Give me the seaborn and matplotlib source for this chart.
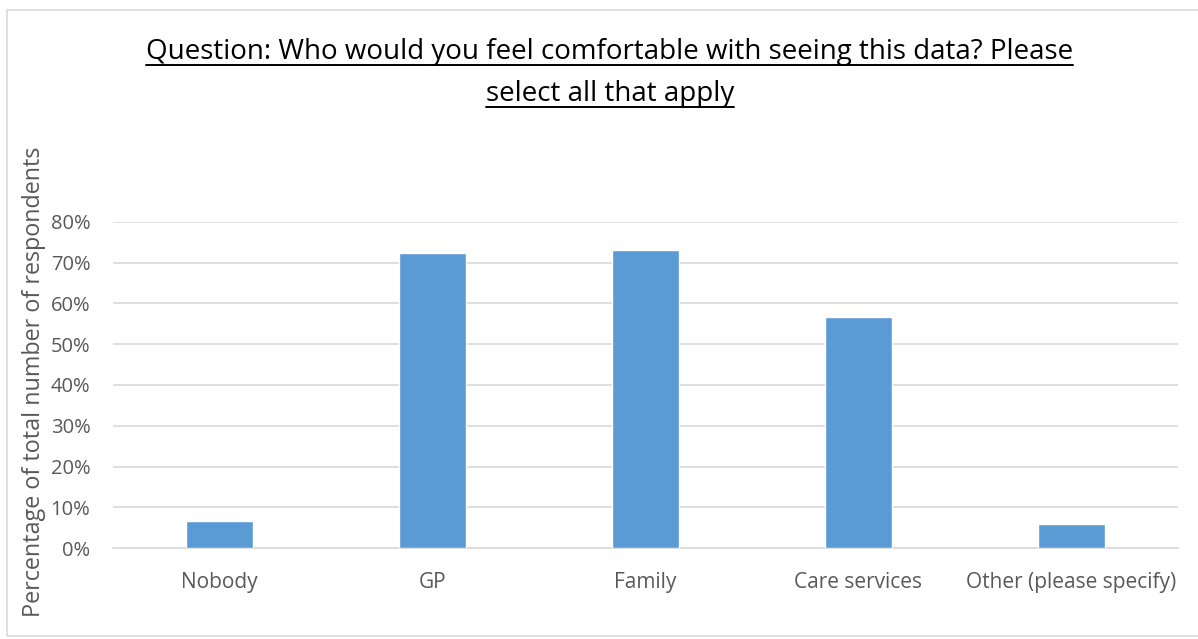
import pandas as pd
import matplotlib
matplotlib.use("Agg")
import matplotlib.pyplot as plt
import seaborn as sns
from matplotlib.patches import Rectangle
from matplotlib.lines import Line2D

# Data
categories = ["Nobody", "GP", "Family", "Care services", "Other (please specify)"]
percentages = [0.067, 0.723, 0.731, 0.566, 0.059]
y_ticks = [0.0, 0.1, 0.2, 0.3, 0.4, 0.5, 0.6, 0.7, 0.8]

data = pd.DataFrame({"Recipient": categories, "Share": percentages})

sns.set_style("white")
plt.rcParams["font.family"] = ["Open Sans", "DejaVu Sans"]

fig = plt.figure(figsize=(11.98, 6.39), dpi=100)
ax = fig.add_axes([0.094, 0.1424, 0.889, 0.5102])

sns.barplot(data=data, x="Recipient", y="Share", color="#5b9bd5",
            width=0.315, saturation=1, ax=ax, zorder=3)

ax.set_ylim(0, 0.8)
ax.set_yticks(y_ticks)
ax.set_yticklabels([f"{int(round(t * 100))}%" for t in y_ticks])
ax.yaxis.grid(True, color="#d9d9d9", linewidth=1.2, zorder=0)
ax.tick_params(axis="y", length=0, labelsize=14.5, colors="#595959", pad=16)
ax.tick_params(axis="x", length=0, labelsize=15, colors="#595959", pad=17)
for side in ["top", "right", "left"]:
    ax.spines[side].set_visible(False)
ax.spines["bottom"].set_color("#d9d9d9")
ax.spines["bottom"].set_linewidth(1.2)
ax.set_xlabel("")
ax.set_ylabel("")

fig.text(0.028, 0.402, "Percentage of total number of respondents", rotation=90,
         ha="center", va="center", fontsize=16.8, color="#595959")

# Title lines, underlined
t1 = fig.text(0.509, 0.918, "Question: Who would you feel comfortable with seeing this data? Please",
              ha="center", va="center", fontsize=20, color="black")
t2 = fig.text(0.509, 0.853, "select all that apply",
              ha="center", va="center", fontsize=20, color="black")
fig.canvas.draw()
renderer = fig.canvas.get_renderer()
for t in (t1, t2):
    bb = t.get_window_extent(renderer).transformed(fig.transFigure.inverted())
    fig.add_artist(Line2D([bb.x0, bb.x1], [bb.y0 + 0.002, bb.y0 + 0.002],
                          transform=fig.transFigure, color="black", linewidth=1.4))

# Chart area border
fig.add_artist(Rectangle((0.006, 0.004), 1.2, 0.98, transform=fig.transFigure,
                         fill=False, edgecolor="#d9d9d9", linewidth=1.2))

fig.savefig("out.png", dpi=100)
